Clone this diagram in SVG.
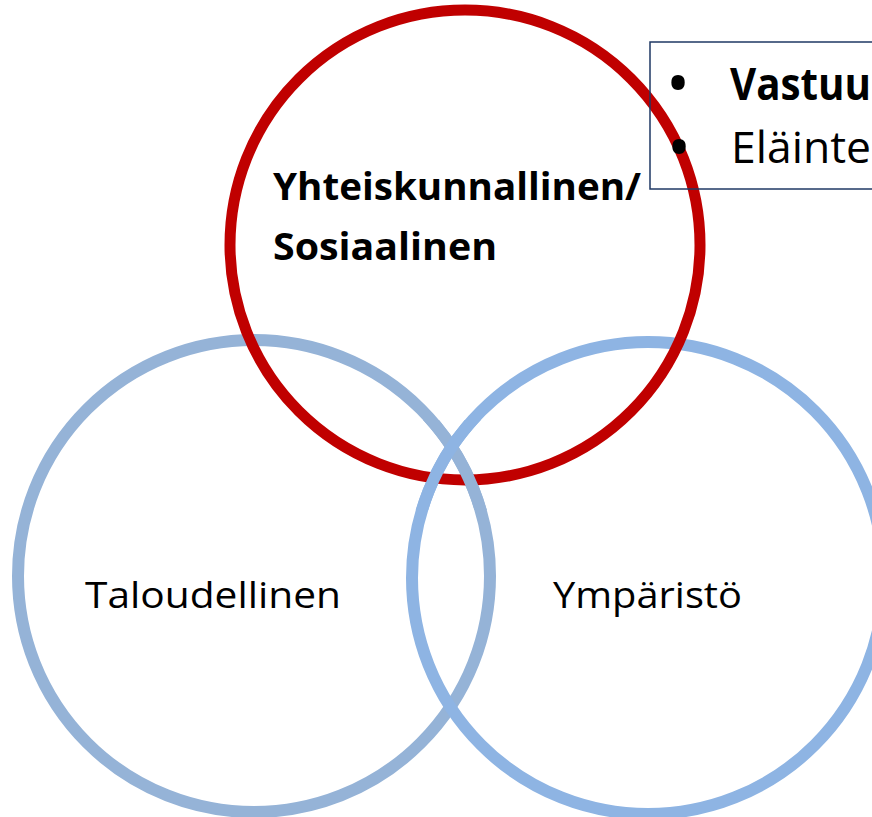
<svg xmlns="http://www.w3.org/2000/svg" width="872" height="817" viewBox="0 0 872 817">
  <style>
    .ring { fill: none; stroke-width: 12; }
    .econ { stroke: #95B3D7; }
    .env { stroke: #8EB4E3; }
    .soc { stroke: #C00000; stroke-width: 11; }
    .lbl { font-family: "Open Sans", "Noto Sans", "Liberation Sans", sans-serif; fill: #000; }
    .b { font-weight: bold; }
  </style>
  <defs>
    <clipPath id="lowClip">
      <rect x="380" y="420" width="140" height="90"/>
    </clipPath>
  </defs>
  <rect width="872" height="817" fill="#ffffff"/>

  <g id="node-taloudellinen">
    <circle class="ring econ" cx="254" cy="576" r="236"/>
  </g>
  <g id="node-ymparisto">
    <circle class="ring env" cx="648" cy="578" r="236"/>
  </g>
  <g id="node-sosiaalinen">
    <circle class="ring soc" cx="465" cy="245" r="235"/>
  </g>
  <g id="overlap-front" clip-path="url(#lowClip)">
    <circle class="ring econ" cx="254" cy="576" r="236"/>
    <circle class="ring env" cx="648" cy="578" r="236"/>
  </g>

  <g id="labels">
    <text class="lbl b" x="273" y="200" font-size="38" textLength="368" lengthAdjust="spacingAndGlyphs">Yhteiskunnallinen/</text>
    <text class="lbl b" x="273" y="260" font-size="38" textLength="224" lengthAdjust="spacingAndGlyphs">Sosiaalinen</text>
    <text class="lbl" x="85" y="608" font-size="36" textLength="256" lengthAdjust="spacingAndGlyphs">Taloudellinen</text>
    <text class="lbl" x="553" y="608" font-size="36" textLength="189" lengthAdjust="spacingAndGlyphs">Ympäristö</text>
  </g>

  <g id="node-textbox">
    <rect x="650" y="42" width="240" height="147" fill="none" stroke="#1F3864" stroke-width="1.5"/>
    <text class="lbl" x="666" y="106" font-size="64">•</text>
    <text class="lbl" x="667" y="170" font-size="64">•</text>
    <text class="lbl b" x="730" y="100" font-size="45" textLength="141" lengthAdjust="spacingAndGlyphs">Vastuu</text>
    <text class="lbl" x="731" y="163" font-size="44" textLength="140" lengthAdjust="spacingAndGlyphs">Eläinte</text>
  </g>

  <g id="connectors"/>
</svg>
